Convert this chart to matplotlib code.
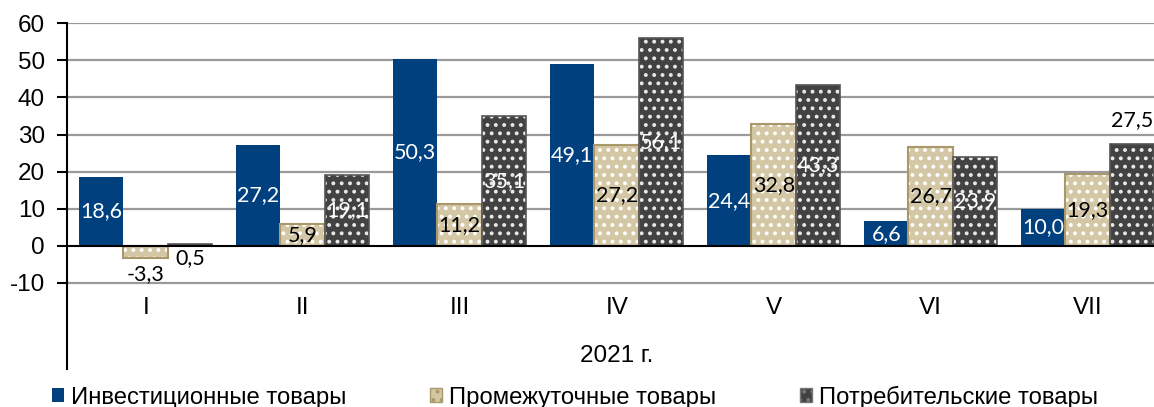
import matplotlib
matplotlib.use("Agg")
import matplotlib.pyplot as plt
from matplotlib.patches import Patch
import numpy as np

#### DATA ####
months = ["I", "II", "III", "IV", "V", "VI", "VII"]
year_label = "2021 г."
series_names = ["Инвестиционные товары", "Промежуточные товары", "Потребительские товары"]
invest = [18.6, 27.2, 50.3, 49.1, 24.4, 6.6, 10.0]
interm = [-3.3, 5.9, 11.2, 27.2, 32.8, 26.7, 19.3]
consum = [0.5, 19.1, 35.1, 56.1, 43.3, 23.9, 27.5]

#### STYLE ####
BLUE = "#00407f"
BEIGE = "#d4c7a5"
BEIGE_EDGE = "#a8986a"
DARK = "#424242"
GRID = "#9a9a9a"
SANS = ["Liberation Sans", "DejaVu Sans"]
LBL = ["Lato", "DejaVu Sans"]
LBL_SIZE = 15.5

plt.rcParams["font.family"] = SANS
plt.rcParams["axes.unicode_minus"] = False
plt.rcParams["hatch.linewidth"] = 1.6

fig = plt.figure(figsize=(11.54, 4.07), dpi=100)
ax = fig.add_axes([67.2 / 1154, 38 / 407, 1099 / 1154, 345.7 / 407])

x = np.arange(len(months))
w = 0.2833

# gridlines only from -10 to 60
for g in range(-10, 61, 10):
    if g != 0:
        ax.axhline(g, color=GRID, lw=1.6, zorder=0)

# investment goods - solid blue
ax.bar(x - w, invest, w, color=BLUE, edgecolor="none", zorder=2)
# intermediate goods - beige with white pattern + tan border
ax.bar(x, interm, w, color=BEIGE, edgecolor="white", lw=0, hatch="..", zorder=2)
ax.bar(x, interm, w, fill=False, edgecolor=BEIGE_EDGE, lw=1.5, zorder=3)
# consumer goods - dark grey with white dots
ax.bar(x + w, consum, w, color=DARK, edgecolor="#e8e8e8", lw=0, hatch="..", zorder=2)
ax.bar(x + w, consum, w, fill=False, edgecolor="#555555", lw=1.2, zorder=3)

ax.axhline(0, color="black", lw=1.5, zorder=4)


def fmt(v):
    return f"{v:.1f}".replace(".", ",")


def put(xx, yy, v, col):
    ax.text(xx, yy, fmt(v), color=col, ha="center", va="center",
            fontsize=LBL_SIZE, family=LBL, zorder=5)


# data labels
for i in range(len(months)):
    put(x[i] - w, invest[i] / 2, invest[i], "white")
    if interm[i] < 0:
        put(x[i], interm[i] - 4.2, interm[i], "black")
    else:
        put(x[i], interm[i] / 2, interm[i], "black")
    if consum[i] < 3:
        put(x[i] + w, -3.2, consum[i], "black")
    elif i == len(months) - 1:
        put(x[i] + w, consum[i] + 6.3, consum[i], "black")
    else:
        put(x[i] + w, consum[i] / 2, consum[i], "white")

# category labels under the plot
for i, m in enumerate(months):
    ax.text(x[i], -16.7, m, ha="center", va="center", fontsize=17.5)
ax.text(3, -29.7, year_label, ha="center", va="center", fontsize=17.5)

ax.set_xlim(-0.5, 6.5)
ax.set_ylim(-33.2, 60)
ax.set_yticks(range(-10, 61, 10))
ax.set_xticks([])
ax.tick_params(axis="y", length=7, width=1.5, pad=9, labelsize=17.5)
for s in ["top", "right", "bottom"]:
    ax.spines[s].set_visible(False)
ax.spines["left"].set_linewidth(1.5)

handles = [
    Patch(facecolor=BLUE, edgecolor="none"),
    Patch(facecolor=BEIGE, edgecolor=BEIGE_EDGE, hatch=".."),
    Patch(facecolor=DARK, edgecolor="#777777", hatch=".."),
]
fig.legend(handles, series_names, loc="center left", bbox_to_anchor=(52 / 1154, 10 / 407),
           ncol=3, frameon=False, fontsize=17.2, handlelength=0.5, handleheight=0.5,
           handletextpad=0.3, columnspacing=3.5, borderpad=0, borderaxespad=0)

fig.savefig("out.png", dpi=100)
